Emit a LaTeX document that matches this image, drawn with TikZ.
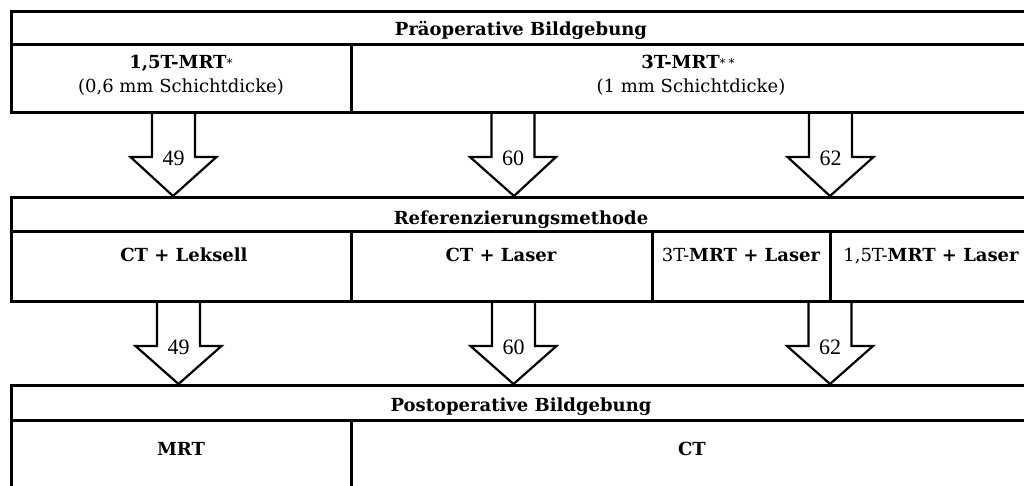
\documentclass[tikz,border=0pt]{standalone}
\usepackage{fontspec}
\setmainfont{DejaVu Serif}
\newfontfamily\numfont{Liberation Serif}
\usetikzlibrary{calc}
\newcommand\blockarr[5]{%
  \draw[barrow] let \p1=(#1), \p2=(#2) in
    (\x1-21.5pt,\y1) -- (\x1-21.5pt,\y2+#3pt) -- (\x1-43pt,\y2+#3pt) -- (\x2,\y2)
    -- (\x1+43pt,\y2+#3pt) -- (\x1+21.5pt,\y2+#3pt) -- (\x1+21.5pt,\y1)
    (\x1,\y2+#3pt-1pt) node[lbl] (#5) {#4};}
\newcommand\myast{\raisebox{1.5pt}{\mdseries\fontsize{12}{12}\selectfont *}}
\begin{document}
\begin{tikzpicture}[x=1pt,y=-1pt,
  cell/.style={draw, line width=3pt, inner sep=0pt},
  hd/.style={font=\fontsize{18}{20}\selectfont\bfseries, anchor=base, inner sep=0pt},
  tx/.style={font=\fontsize{18}{20}\selectfont, anchor=base, inner sep=0pt},
  lbl/.style={font=\numfont\fontsize{22}{24}\selectfont, inner sep=0pt},
  barrow/.style={draw, line width=2.2pt, line join=miter}]
\useasboundingbox (0,0) rectangle (1024,486);
\clip (0,0) rectangle (1024,486);
% Table 1
\node[cell, minimum width=1022, minimum height=33] (t1h) at (522,28.5) {};
\node[cell, minimum width=340, minimum height=68] (t1a) at (181,79) {};
\node[cell, minimum width=682, minimum height=68] (t1b) at (692,79) {};
% Table 2
\node[cell, minimum width=1022, minimum height=34] (t2h) at (522,214.5) {};
\node[cell, minimum width=340, minimum height=70] (t2a) at (181,266.5) {};
\node[cell, minimum width=301, minimum height=70] (t2b) at (501.5,266.5) {};
\node[cell, minimum width=178, minimum height=70] (t2c) at (741,266.5) {};
\node[cell, minimum width=203, minimum height=70] (t2d) at (931.5,266.5) {};
% Table 3
\node[cell, minimum width=1022, minimum height=35] (t3h) at (522,402.5) {};
\node[cell, minimum width=340, minimum height=100] (t3a) at (181,470) {};
\node[cell, minimum width=682, minimum height=100] (t3b) at (692,470) {};
% Texts
\node[hd] (x1) at (521,36) {Präoperative Bildgebung};
\node[hd] (x2) at (181,69) {1,5T-MRT\myast};
\node[tx] (x3) at (181,93) {(0,6 mm Schichtdicke)};
\node[hd] (x4) at (688,69) {3T-MRT\myast\,\myast};
\node[tx] (x5) at (691,93) {(1 mm Schichtdicke)};
\node[hd] (x6) at (521,225) {Referenzierungsmethode};
\node[hd] (x7) at (184,261) {CT + Leksell};
\node[hd] (x8) at (501,261) {CT + Laser};
\node[hd] (x9) at (741,261) {{\mdseries 3T-}MRT + Laser};
\node[hd] (x10) at (931,261) {{\mdseries 1,5T-}MRT + Laser};
\node[hd] (x11) at (521,411) {Postoperative Bildgebung};
\node[hd] (x12) at (181,455) {MRT};
\node[hd] (x13) at (692,455) {CT};
% Arrow anchor coordinates
\coordinate (s1) at (173.5,113);
\coordinate (e1) at (173,196);
\coordinate (s2) at (513,113);
\coordinate (e2) at (514,196);
\coordinate (s3) at (830.5,113);
\coordinate (e3) at (830,196);
\coordinate (s4) at (178.5,302);
\coordinate (e4) at (178.5,384);
\coordinate (s5) at (513.5,302);
\coordinate (e5) at (513.5,384);
\coordinate (s6) at (830,302);
\coordinate (e6) at (830,384);
\blockarr{s1}{e1}{39}{49}{l1}
\blockarr{s2}{e2}{39}{60}{l2}
\blockarr{s3}{e3}{39}{62}{l3}
\blockarr{s4}{e4}{38}{49}{l4}
\blockarr{s5}{e5}{38}{60}{l5}
\blockarr{s6}{e6}{38}{62}{l6}
\end{tikzpicture}
\end{document}
